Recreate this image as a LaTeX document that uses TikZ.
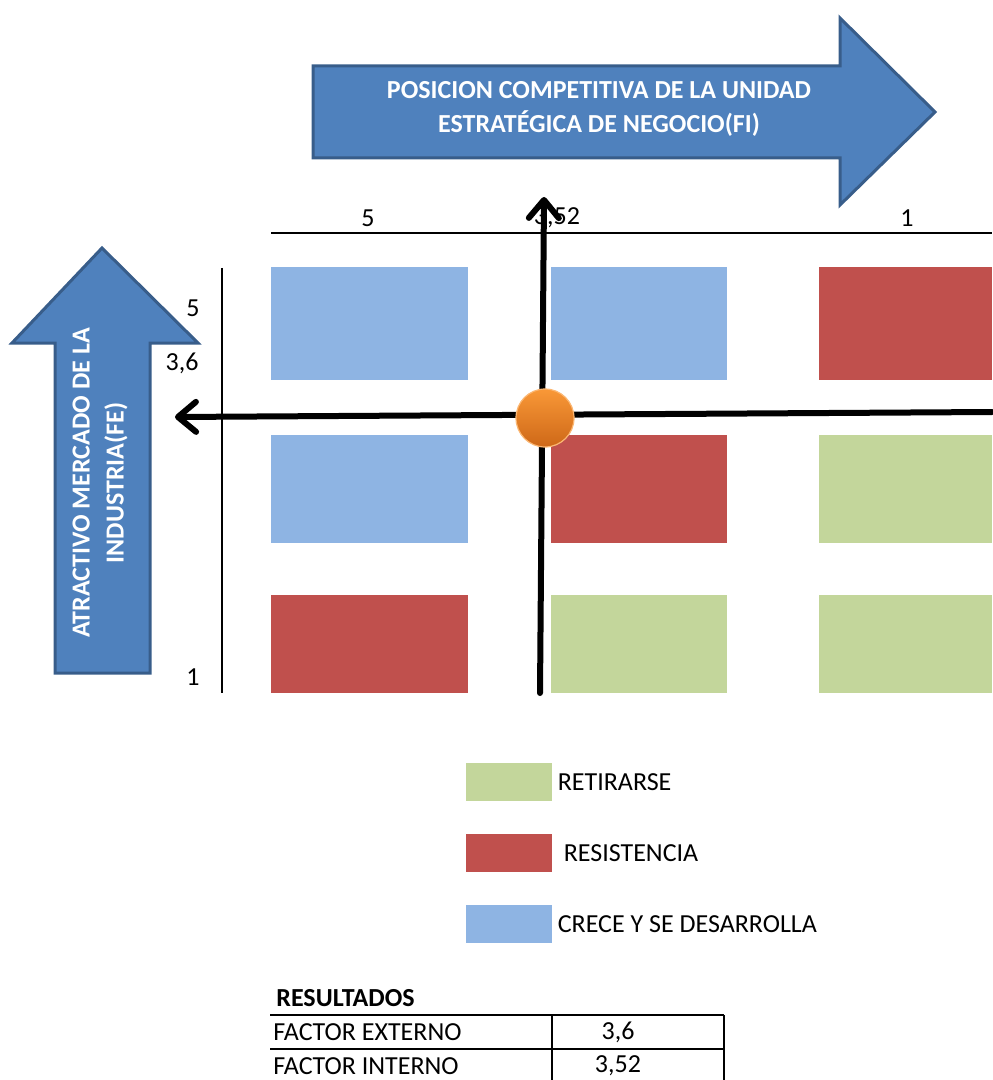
\documentclass[tikz,border=0pt]{standalone}
\usepackage{fontspec}
\setmainfont{Carlito}
\usepackage{xcolor}
\definecolor{gearrow}{RGB}{79,129,189}
\definecolor{geedge}{RGB}{56,93,138}
\definecolor{geblue}{RGB}{142,180,227}
\definecolor{gered}{RGB}{192,80,77}
\definecolor{gegreen}{RGB}{195,214,155}
\definecolor{georange}{RGB}{249,152,55}
\definecolor{gedorange}{RGB}{206,104,24}
\usetikzlibrary{arrows.meta,positioning,fit}

\begin{document}
\begin{tikzpicture}[x=0.5pt, y=-0.5pt,
  cell/.style={rectangle, inner sep=0pt, fill=#1},
  legbox/.style={rectangle, inner sep=0pt, minimum width=43pt, minimum height=19pt, fill=#1},
  blockarr/.style={fill=gearrow, draw=geedge, line width=1.5pt},
  atxt/.style={font=\fontsize{13}{17}\selectfont\bfseries, text=white, align=center},
  lbl/.style={font=\fontsize{13}{15}\selectfont, inner sep=0pt},
  axis/.style={line width=0.75pt},
  mainax/.style={line width=3pt, line cap=round, -{Straight Barb[length=9pt, width=15pt, round]}},
  tline/.style={line width=0.8pt}
]
\useasboundingbox (0,0) rectangle (992,1080);

% Quadrant grid
\node[cell=geblue, fit={(271,267) (468,380)}] (c11) {};
\node[cell=geblue, fit={(551,267) (727,380)}] (c12) {};
\node[cell=gered, fit={(819,267) (992,380)}] (c13) {};
\node[cell=geblue, fit={(271,435) (468,543)}] (c21) {};
\node[cell=gered, fit={(551,435) (727,543)}] (c22) {};
\node[cell=gegreen, fit={(819,435) (992,543)}] (c23) {};
\node[cell=gered, fit={(271,595) (468,693)}] (c31) {};
\node[cell=gegreen, fit={(551,595) (727,693)}] (c32) {};
\node[cell=gegreen, fit={(819,595) (992,693)}] (c33) {};

% Scales
\coordinate (topl) at (271,233);
\coordinate (topr) at (992,233);
\coordinate (lefttop) at (222,268);
\coordinate (leftbot) at (222,693);
\draw[axis] (topl) -- (topr);
\draw[axis] (lefttop) -- (leftbot);
\node[lbl] (x5) at (368,218) {5};
\node[lbl] (x352) at (557,218) {3,52};
\node[lbl] (x1) at (907,218) {1};
\node[lbl] (y5) at (193,308) {5};
\node[lbl] (y36) at (182,363) {3,6};
\node[lbl] (y1) at (193,677) {1};

% Block arrows
\draw[blockarr] (313,66) -- (840,66) -- (840,18) -- (935,112) -- (840,205) -- (840,158) -- (313,158) -- cycle;
\node[atxt] (fi) at (599,109) {POSICION COMPETITIVA DE LA UNIDAD\\ESTRATÉGICA DE NEGOCIO(FI)};
\draw[blockarr] (55,673) -- (55,343) -- (12,343) -- (102,248) -- (198,343) -- (150,343) -- (150,673) -- cycle;
\node[atxt, rotate=90] (fe) at (100,483) {ATRACTIVO MERCADO DE LA\\INDUSTRIA(FE)};

% Position lines
\coordinate (hstart) at (992,412);
\coordinate (hend) at (175,417);
\coordinate (vstart) at (540,693);
\coordinate (vend) at (544,197);
\draw[mainax] (hstart) -- (hend);
\draw[mainax] (vstart) -- (vend);
\node[circle, minimum size=29pt, inner sep=0pt, top color=georange, bottom color=gedorange,
      draw=georange!70!white, line width=0.6pt] (ball) at (545,418) {};

% Legend
\node[legbox=gegreen] (lgret) at (509,782) {};
\node[lbl, right=2.5pt of lgret] (tret) {RETIRARSE};
\node[legbox=gered] (lgres) at (509,853) {};
\node[lbl, right=5.5pt of lgres] (tres) {RESISTENCIA};
\node[legbox=geblue] (lgcre) at (509,924) {};
\node[lbl, right=2.5pt of lgcre] (tcre) {CRECE Y SE DESARROLLA};

% Results table
\node[lbl, font=\fontsize{13}{15}\selectfont\bfseries, anchor=west] (res) at (276,998) {RESULTADOS};
\draw[tline] (270,1015) -- (724,1015);
\draw[tline] (270,1049) -- (724,1049);
\draw[tline] (552,1015) -- (552,1080);
\draw[tline] (724,1015) -- (724,1080);
\node[lbl, anchor=west] (fext) at (273,1032) {FACTOR EXTERNO};
\node[lbl] (vext) at (618,1032) {3,6};
\node[lbl, anchor=west] (fint) at (273,1066) {FACTOR INTERNO};
\node[lbl] (vint) at (618,1066) {3,52};
\end{tikzpicture}
\end{document}
